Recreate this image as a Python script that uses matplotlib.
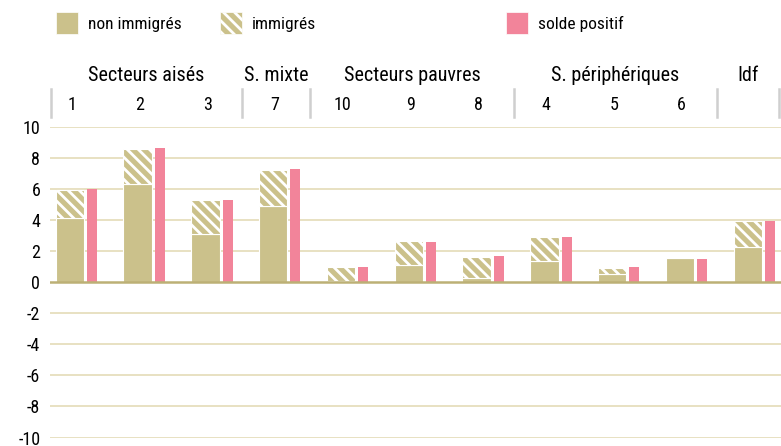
import matplotlib

matplotlib.use("Agg")
import matplotlib.pyplot as plt
import numpy as np
from matplotlib.lines import Line2D
from matplotlib.patches import Rectangle

plt.rcParams["font.family"] = ["Roboto Condensed", "DejaVu Sans"]
plt.rcParams["hatch.linewidth"] = 2.0

TAN = "#cbc18b"
PINK = "#f2849a"
GRID = "#e4dcb8"
ZERO = "#bcb075"
SEP = "#cfcfcf"

# data
sectors = ["1", "2", "3", "7", "10", "9", "8", "4", "5", "6", ""]
group_names = ["Secteurs aisés", "S. mixte", "Secteurs pauvres", "S. périphériques", "Idf"]
group_sizes = [3, 1, 3, 3, 1]
non_immigres = [4.15, 6.33, 3.11, 4.89, 0.05, 1.14, 0.28, 1.35, 0.55, 1.58, 2.25]
immigres = [1.79, 2.27, 2.19, 2.36, 0.92, 1.52, 1.37, 1.57, 0.34, 0.0, 1.68]
solde_positif = [5.98, 8.65, 5.32, 7.27, 1.00, 2.60, 1.70, 2.92, 1.00, 1.52, 3.97]
yticks = [10, 8, 6, 4, 2, 0, -2, -4, -6, -8, -10]

HATCH = "\\\\\\"

fig = plt.figure(figsize=(7.81, 4.46), dpi=100)
ax = fig.add_axes([50 / 781, 8.0 / 446, 731 / 781, 311.5 / 446])

x = np.arange(len(sectors))
ax.bar(x - 0.0965, non_immigres, width=0.417, color=TAN, edgecolor="white",
       linewidth=0.8, zorder=3)
ax.bar(x - 0.0965, immigres, bottom=non_immigres, width=0.417, color=TAN,
       edgecolor="white", linewidth=0.8, hatch=HATCH, zorder=3)
ax.bar(x + 0.23, solde_positif, width=0.148, color=PINK, linewidth=0, zorder=3)

ax.set_xlim(-0.389, 10.393)
ax.set_ylim(-10.03, 10.03)
ax.set_yticks(yticks)
ax.set_yticklabels([str(v) for v in yticks])
ax.set_xticks([])
ax.tick_params(axis="y", length=0, pad=7, labelsize=13)
for s in ax.spines.values():
    s.set_visible(False)
for v in yticks:
    if v == 0:
        ax.axhline(v, color=ZERO, linewidth=1.8, zorder=4)
    else:
        ax.axhline(v, color=GRID, linewidth=1.2, zorder=1)

# sector numbers and group headers above the plot
to_fig = lambda xd: (ax.transData.transform((xd, 0))[0]) / fig.bbox.width
for xi, lab in zip(x, sectors):
    fig.text(to_fig(xi - 0.07), 0.765, lab, ha="center", va="center", fontsize=13)

bounds = np.cumsum(group_sizes)
seps = [-0.378] + [min(b - 0.55, 10.37) for b in bounds]
for sx in seps:
    fig.add_artist(Line2D([to_fig(sx)] * 2, [0.738, 0.800], color=SEP, linewidth=1.8))
for name, a, b in zip(group_names, seps[:-1], seps[1:]):
    fig.text((to_fig(a) + to_fig(b)) / 2, 0.830, name, ha="center", va="center",
             fontsize=14.5)

# legend
items = [(56, "non immigrés", None, TAN), (220, "immigrés", HATCH, TAN),
         (506, "solde positif", None, PINK)]
for px, lab, hatch, col in items:
    fig.add_artist(Rectangle((px / 781, 1 - 33.5 / 446), 21.5 / 781, 21.5 / 446,
                             facecolor=col, edgecolor="white", linewidth=0.5,
                             hatch=hatch, transform=fig.transFigure))
    fig.text((px + 32) / 781, 1 - 24 / 446, lab, ha="left", va="center", fontsize=12.5)

fig.savefig("out.png", dpi=100)
